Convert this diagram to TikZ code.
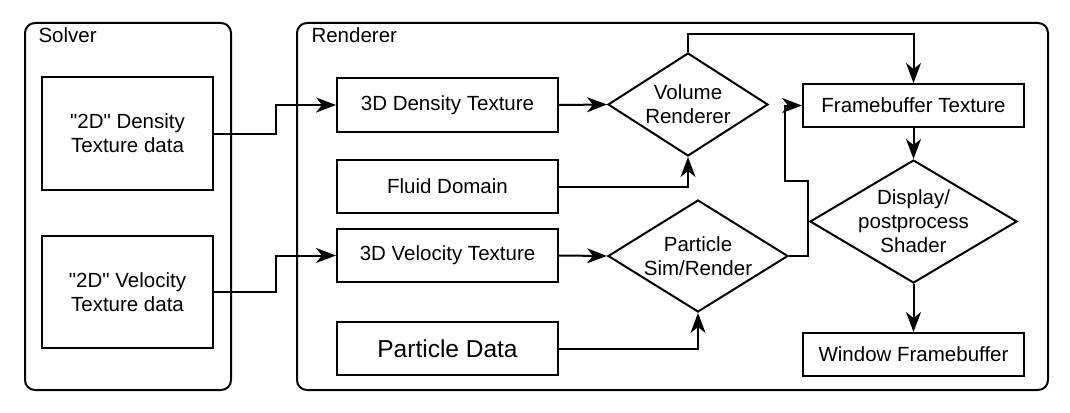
\documentclass[tikz,border=0pt]{standalone}
\usepackage{fontspec}
\setmainfont{Liberation Sans}
\usetikzlibrary{arrows.meta,shapes.geometric}
\begin{document}
\begin{tikzpicture}[x=1pt,y=-1pt,
  txt/.style={font=\fontsize{20.5}{24}\selectfont, align=center},
  cont/.style={draw, line width=2pt, rounded corners=10pt, inner sep=0pt},
  box/.style={draw, line width=2pt, rectangle, inner sep=0pt, txt},
  dia/.style={draw, line width=2pt, diamond, inner sep=0pt},
  arr/.style={line width=2pt, -{Stealth[length=20pt,width=15pt,inset=6pt]}}
]
\useasboundingbox (0,0) rectangle (1070,412);
% containers
\node[cont, minimum width=206pt, minimum height=367pt] (solver) at (128,206.5) {};
\node[cont, minimum width=751pt, minimum height=367pt] (renderer) at (672.5,206.5) {};
\node[txt, anchor=base west] (solverlbl) at (35,43) {Solver};
\node[txt, anchor=base west] (rendererlbl) at (308,43) {Renderer};
% solver boxes
\node[box, minimum width=171pt, minimum height=113pt] (d2) at (127.5,133.5) {\textquotedbl 2D\textquotedbl{} Density\\Texture data};
\node[box, minimum width=171pt, minimum height=112pt] (v2) at (127.5,292) {\textquotedbl 2D\textquotedbl{} Velocity\\Texture data};
% renderer boxes
\node[box, minimum width=221pt, minimum height=54pt] (d3) at (447.5,105) {3D Density Texture};
\node[box, minimum width=221pt, minimum height=53pt] (fd) at (447.5,186.5) {Fluid Domain};
\node[box, minimum width=221pt, minimum height=53pt] (v3) at (447.5,255.5) {3D Velocity Texture};
\node[box, minimum width=221pt, minimum height=53pt, font=\fontsize{24.5}{28}\selectfont] (pd) at (447.5,348.5) {Particle Data};
% diamonds
\node[dia, minimum width=160pt, minimum height=103pt] (vr) at (688,104.5) {};
\node[txt] (vrt) at (vr.center) {Volume\\Renderer};
\node[dia, minimum width=180pt, minimum height=112pt] (ps) at (698,256) {};
\node[txt] (pst) at (ps.center) {Particle\\Sim/Render};
\node[box, minimum width=221pt, minimum height=43pt] (ft) at (913.5,105.5) {Framebuffer Texture};
\node[dia, minimum width=207pt, minimum height=123pt] (ds) at (913.5,221.5) {};
\node[txt] (dst) at (ds.center) {Display/\\postprocess\\Shader};
\node[box, minimum width=221pt, minimum height=43pt] (wf) at (913.5,354.5) {Window Framebuffer};
% connectors
\draw[arr] (d2.east) -- ++(62,0) |- (d3.west);
\draw[arr] (v2.east) -- ++(62,0) |- (v3.west);
\draw[arr] (d3.east) -- (vr.west);
\draw[arr] (fd.east) -| (vr.south);
\draw[arr] (v3.east) -- (ps.west);
\draw[arr] (pd.east) -| (ps.south);
\draw[arr] (vr.north) -- ++(0,-18) -| (ft.north);
\draw[arr] (ps.east) -- ++(19,0) -- ++(0,-75) -- ++(-23,0) |- (ft.west);
\draw[arr] (ft.south) -- (ds.north);
\draw[arr] (ds.south) -- (wf.north);
\end{tikzpicture}
\end{document}
